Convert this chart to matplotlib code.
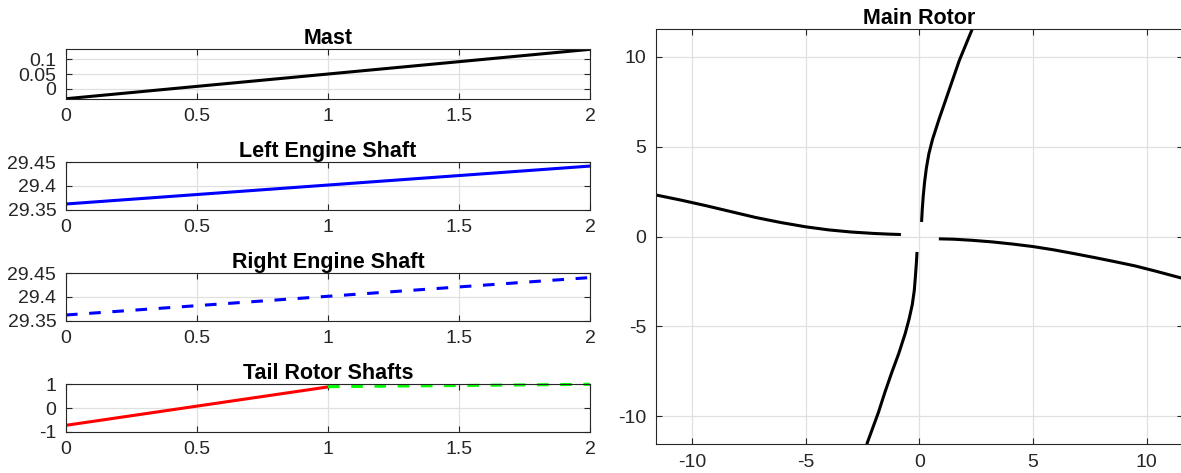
import matplotlib
matplotlib.use("Agg")
import matplotlib.pyplot as plt

plt.rcParams['font.family'] = ['Liberation Sans', 'DejaVu Sans']
plt.rcParams['axes.unicode_minus'] = False

# time axis of the shaft plots
t = [0, 2]
mast = [-0.033, 0.134]
left_engine = [29.362, 29.442]
right_engine = [29.362, 29.441]
tail_t1 = [0, 1]
tail_red = [-0.73, 0.89]
tail_t2 = [1, 2]
tail_green = [0.90, 1.0]

# main rotor blades (x, y)
blade_up_x = [0.10, 0.13, 0.17, 0.23, 0.31, 0.42, 0.58, 0.86, 1.16, 1.46, 1.76, 2.33]
blade_up_y = [0.81, 1.5, 2.2, 3.0, 3.8, 4.6, 5.4, 6.5, 7.6, 8.7, 9.8, 11.55]
blade_down_x = [-0.10, -0.13, -0.17, -0.22, -0.31, -0.45, -0.62, -0.90, -1.22, -1.52, -1.80, -2.31]
blade_down_y = [-0.86, -1.5, -2.2, -3.0, -3.8, -4.6, -5.4, -6.5, -7.6, -8.7, -9.8, -11.56]
blade_left_x = [-11.58, -10.5, -9.4, -8.3, -7.2, -6.1, -5.0, -4.0, -3.0, -2.0, -1.3, -0.81]
blade_left_y = [2.31, 2.03, 1.72, 1.39, 1.06, 0.78, 0.54, 0.37, 0.25, 0.17, 0.13, 0.11]
blade_right_x = [0.86, 1.5, 2.3, 3.2, 4.1, 5.0, 5.9, 6.8, 7.7, 8.6, 9.5, 10.4, 11.58]
blade_right_y = [-0.13, -0.15, -0.21, -0.30, -0.42, -0.56, -0.74, -0.95, -1.17, -1.40, -1.64, -1.93, -2.33]

dark = (0.15, 0.15, 0.15)
grid_c = (0.88, 0.88, 0.88)
lw = 2.2
dash = (3.8, 3.8)


def style(ax, title):
    ax.set_title(title, fontsize=15.5, fontweight='bold', pad=3.5)
    ax.grid(True, color=grid_c, linewidth=0.9)
    ax.set_axisbelow(True)
    ax.tick_params(direction='in', top=True, right=True, length=4,
                   width=0.8, color=dark, labelcolor=dark, labelsize=14, pad=7)
    for s in ax.spines.values():
        s.set_color(dark)
        s.set_linewidth(0.8)


fig = plt.figure(figsize=(11.81, 4.73), dpi=100)

x0, w = 66 / 1181, 524 / 1181
ax1 = fig.add_axes([x0, 0.7913, w, 0.1044])
ax2 = fig.add_axes([x0, 0.5567, w, 0.1002])
ax3 = fig.add_axes([x0, 0.3220, w, 0.1002])
ax4 = fig.add_axes([x0, 0.0873, w, 0.1002])
ax5 = fig.add_axes([656 / 1181, 0.0613, (1182.6 - 656) / 1181, 0.8774])

ax1.plot(t, mast, color='k', lw=lw)
ax1.set_ylim(mast[0], mast[1])
ax1.set_yticks([0, 0.05, 0.1])
ax1.set_yticklabels(['0', '0.05', '0.1'])
style(ax1, 'Mast')

ax2.plot(t, left_engine, color='b', lw=lw)
ax2.set_ylim(29.35, 29.45)
ax2.set_yticks([29.35, 29.4, 29.45])
ax2.set_yticklabels(['29.35', '29.4', '29.45'])
style(ax2, 'Left Engine Shaft')

ax3.plot(t, right_engine, color='b', lw=lw, dashes=dash)
ax3.set_ylim(29.35, 29.45)
ax3.set_yticks([29.35, 29.4, 29.45])
ax3.set_yticklabels(['29.35', '29.4', '29.45'])
style(ax3, 'Right Engine Shaft')

ax4.plot(tail_t1, tail_red, color='r', lw=lw)
ax4.plot(tail_t2, tail_green, color=(0, 1, 0), lw=lw, dashes=dash, clip_on=False)
ax4.set_ylim(-1, 1)
ax4.set_yticks([-1, 0, 1])
style(ax4, 'Tail Rotor Shafts')

for ax in (ax1, ax2, ax3, ax4):
    ax.set_xlim(0, 2)
    ax.set_xticks([0, 0.5, 1, 1.5, 2])
    ax.set_xticklabels(['0', '0.5', '1', '1.5', '2'])

for bx, by in ((blade_up_x, blade_up_y), (blade_down_x, blade_down_y),
               (blade_left_x, blade_left_y), (blade_right_x, blade_right_y)):
    ax5.plot(bx, by, color='k', lw=lw, solid_capstyle='butt', solid_joinstyle='round')
ax5.set_xlim(-11.58, 11.58)
ax5.set_ylim(-11.55, 11.55)
ax5.set_xticks([-10, -5, 0, 5, 10])
ax5.set_yticks([-10, -5, 0, 5, 10])
style(ax5, 'Main Rotor')

fig.savefig('out.png', dpi=100)
